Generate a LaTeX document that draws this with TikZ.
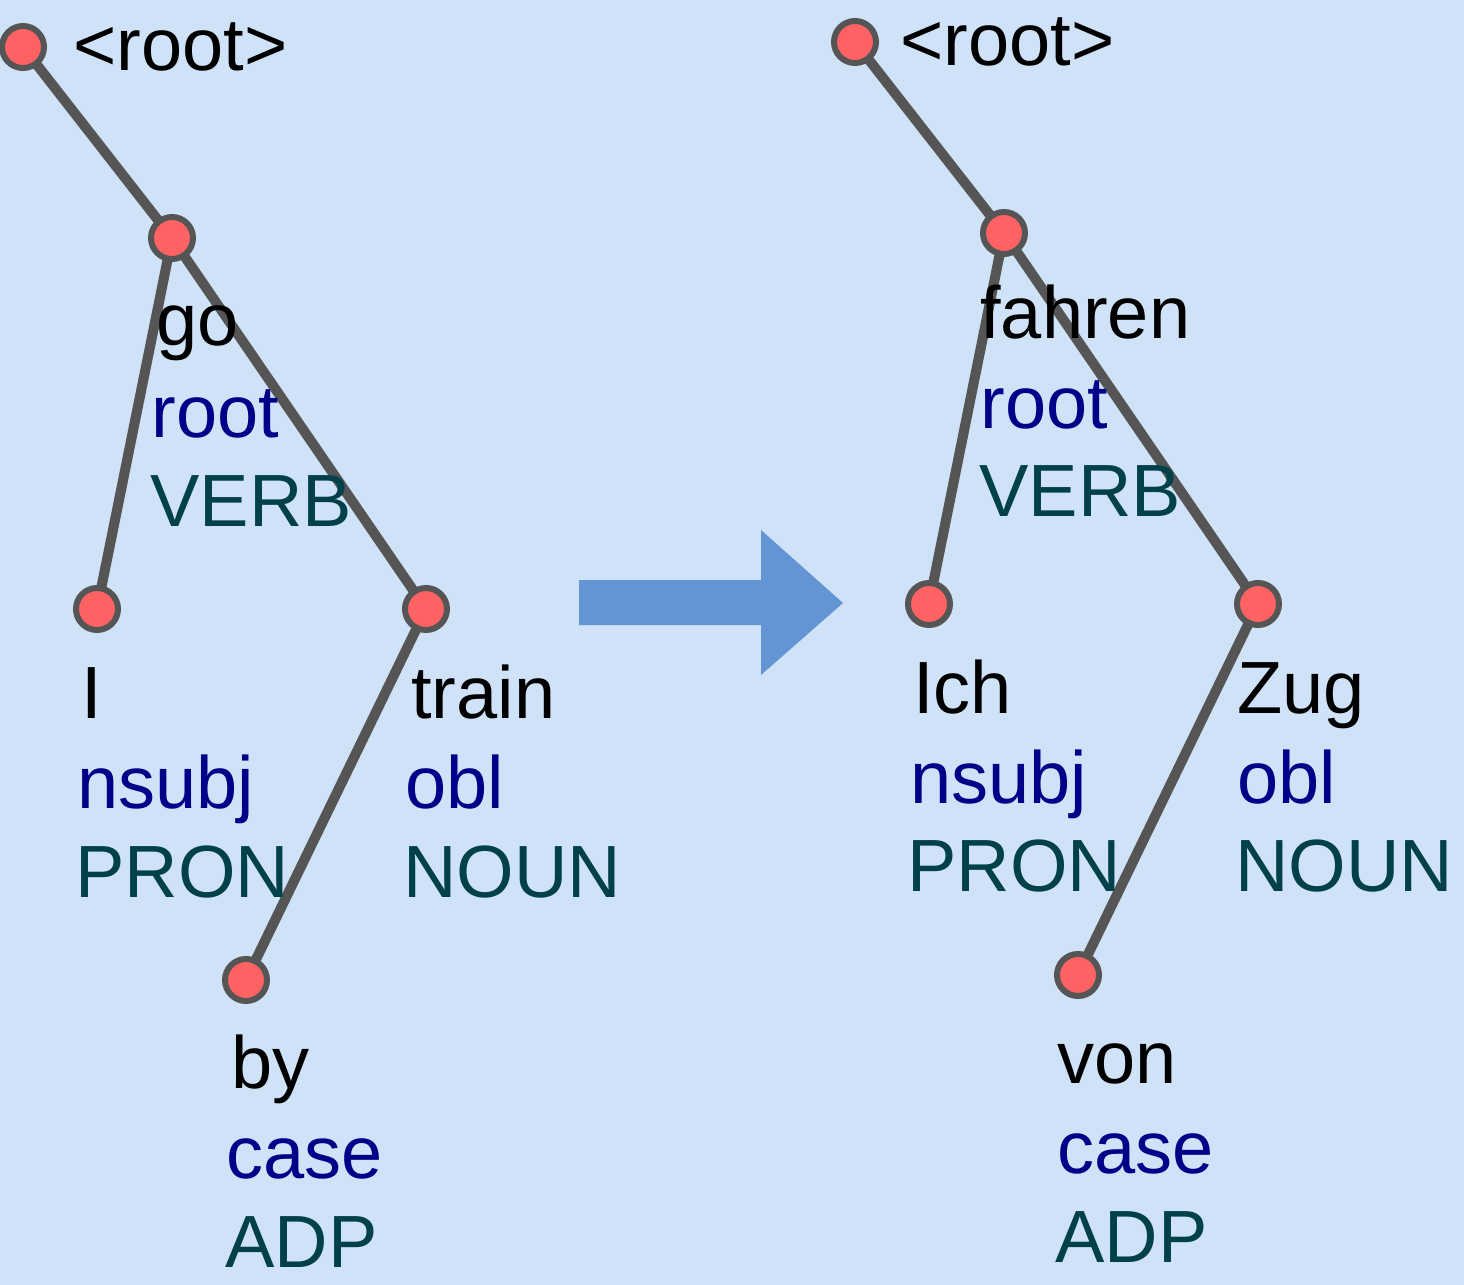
\documentclass[tikz,border=0pt]{standalone}
\usepackage{fontspec}
\setmainfont{Liberation Sans}
\pgfdeclarelayer{bg}
\pgfdeclarelayer{edges}
\pgfsetlayers{bg,edges,main}
\definecolor{bgc}{HTML}{D0E2F7}
\definecolor{arrowc}{HTML}{6395D5}
\definecolor{nodefill}{HTML}{FF6262}
\definecolor{nodeline}{HTML}{555555}
\definecolor{edgec}{HTML}{555555}
\definecolor{relc}{HTML}{000088}
\definecolor{posc}{HTML}{00404A}
\begin{document}
\begin{tikzpicture}[x=0.5pt,y=-0.5pt,
  tok/.style={circle,fill=nodefill,draw=nodeline,line width=3pt,minimum size=21pt,inner sep=0pt},
  deplink/.style={draw=edgec,line width=5pt},
  lbl/.style={anchor=base west,inner sep=0pt,font=\fontsize{37pt}{44pt}\selectfont},
  wordtag/.style={lbl,text=black},
  reltag/.style={lbl,text=relc},
  postag/.style={lbl,text=posc}]
\begin{pgfonlayer}{bg}
\fill[bgc] (0,0) rectangle (1464,1285);
\end{pgfonlayer}
\useasboundingbox (0,0) rectangle (1464,1285);
% left tree nodes
\node[tok] (lroot) at (23,47) {};
\node[tok] (lgo) at (172,238) {};
\node[tok] (lI) at (97,609) {};
\node[tok] (ltrain) at (426,609) {};
\node[tok] (lby) at (246,980) {};
% right tree nodes
\node[tok] (rroot) at (855,42) {};
\node[tok] (rfahren) at (1004,233) {};
\node[tok] (rIch) at (929,604) {};
\node[tok] (rZug) at (1258,604) {};
\node[tok] (rvon) at (1078,975) {};
\begin{pgfonlayer}{edges}
\draw[deplink] (lroot.center) -- (lgo.center);
\draw[deplink] (lgo.center) -- (lI.center);
\draw[deplink] (lgo.center) -- (ltrain.center);
\draw[deplink] (ltrain.center) -- (lby.center);
\draw[deplink] (rroot.center) -- (rfahren.center);
\draw[deplink] (rfahren.center) -- (rIch.center);
\draw[deplink] (rfahren.center) -- (rZug.center);
\draw[deplink] (rZug.center) -- (rvon.center);
\end{pgfonlayer}
% labels left
\node[wordtag] (tlroot) at (73,70) {<root>};
\node[wordtag] (tgo) at (156,345) {go};
\node[reltag]  (tgor) at (151,437) {root};
\node[postag]  (tgop) at (150,526) {VERB};
\node[wordtag] (tI) at (81,718) {I};
\node[reltag]  (tIr) at (77,808) {nsubj};
\node[postag]  (tIp) at (75,897) {PRON};
\node[wordtag] (ttrain) at (411,718) {train};
\node[reltag]  (ttrainr) at (405,808) {obl};
\node[postag]  (ttrainp) at (403,897) {NOUN};
\node[wordtag] (tby) at (231,1088) {by};
\node[reltag]  (tbyr) at (226,1178) {case};
\node[postag]  (tbyp) at (225,1267) {ADP};
% labels right
\node[wordtag] (trroot) at (900,65) {<root>};
\node[wordtag] (tfahren) at (980,338) {fahren};
\node[reltag]  (tfahrenr) at (980,428) {root};
\node[postag]  (tfahrenp) at (979,516) {VERB};
\node[wordtag] (tIch) at (913,713) {Ich};
\node[reltag]  (tIchr) at (910,803) {nsubj};
\node[postag]  (tIchp) at (907,891) {PRON};
\node[wordtag] (tZug) at (1237,713) {Zug};
\node[reltag]  (tZugr) at (1237,803) {obl};
\node[postag]  (tZugp) at (1235,891) {NOUN};
\node[wordtag] (tvon) at (1057,1083) {von};
\node[reltag]  (tvonr) at (1057,1173) {case};
\node[postag]  (tvonp) at (1055,1262) {ADP};
% transfer arrow
\fill[arrowc] (579,580) -- (761,580) -- (761,530) -- (843,603) -- (761,675) -- (761,625) -- (579,625) -- cycle;
\end{tikzpicture}
\end{document}
